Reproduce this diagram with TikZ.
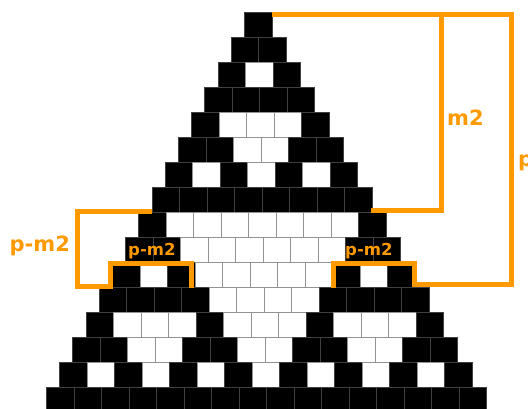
\documentclass[tikz,border=0pt]{standalone}
\usepackage{fontspec}
\setmainfont{DejaVu Sans}
\definecolor{ora}{RGB}{255,153,0}
\begin{document}
\begin{tikzpicture}[x=1pt,y=-1pt,
  cellB/.style={fill=black,draw=black!75,line width=0.5pt},
  cellW/.style={fill=white,draw=gray!85,line width=0.6pt},
  bracket/.style={draw=ora,line width=5pt,line join=miter},
  biglbl/.style={text=ora,font=\bfseries\fontsize{21}{21}\selectfont,inner sep=0pt,anchor=base west},
  smalllbl/.style={text=ora,font=\bfseries\fontsize{16.5}{16.5}\selectfont,inner sep=0pt,anchor=base west}]
\useasboundingbox (0,0) rectangle (528,408);
\clip (0,0) rectangle (528,408);
% Pascal triangle mod 2
\foreach \r in {0,...,15}{
  \foreach \k in {0,...,\r}{
    \pgfmathtruncatemacro{\odd}{(1-mod(\k,2)*(1-mod(\r,2)))*(1-mod(floor(\k/2),2)*(1-mod(floor(\r/2),2)))*(1-mod(floor(\k/4),2)*(1-mod(floor(\r/4),2)))*(1-mod(floor(\k/8),2)*(1-mod(floor(\r/8),2)))}
    \pgfmathsetmacro{\xx}{244.3-13.2*\r+27.5*\k}
    \pgfmathsetmacro{\yy}{12+25*\r}
    \ifnum\odd=1
      \path[cellB] (\xx,\yy) rectangle ++(27.5,25);
    \else
      \path[cellW] (\xx,\yy) rectangle ++(27.5,25);
    \fi
  }
}
% brackets
\coordinate (topR) at (272,14.5);
\coordinate (m2c) at (441,14.5);
\coordinate (pc) at (511.5,14.5);
\path[bracket] (topR) -- (pc) -- (511.5,284.3) -- (414,284.3) -- (414,263.5) -- (333,263.5) -- (333,288);
\path[bracket] (m2c) -- (441,210) -- (371,210);
\path[bracket] (151.5,211.8) -- (77.5,211.8) -- (77.5,286.3) -- (110,286.3) -- (110,263.5) -- (191.5,263.5) -- (191.5,288);
% labels
\node[biglbl] (lblm2) at (447,125) {m2};
\node[biglbl] (lblp) at (518,166.5) {p};
\node[biglbl] (lblpm2big) at (9.5,251.7) {p-m2};
\node[smalllbl] (lblpm2l) at (128,255.5) {p-m2};
\node[smalllbl] (lblpm2r) at (345,255.5) {p-m2};
\end{tikzpicture}
\end{document}
